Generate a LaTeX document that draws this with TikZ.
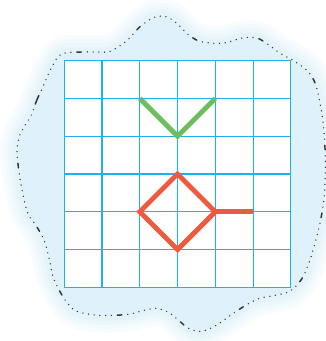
\documentclass[tikz,border=0pt]{standalone}
\usepackage{tikz}
\usetikzlibrary{calc}

\definecolor{gridblue}{HTML}{1EB2EC}
\definecolor{blobblue}{HTML}{DFF1FA}
\definecolor{vgreen}{HTML}{6CBD5E}
\definecolor{dred}{HTML}{EE5A3D}

\begin{document}
\begin{tikzpicture}[x=1cm,y=1cm,
    gridline/.style={draw=gridblue,line width=0.85pt},
    stroke/.style={line width=3.6pt,line join=miter,line cap=butt},
    outline/.style={line width=1.1pt,line cap=round,
      dash pattern=on 3.5pt off 4.5pt on 0pt off 4.3pt on 0pt off 4.3pt on 0pt off 4.3pt
        on 0pt off 4.3pt on 0pt off 4.3pt on 0pt off 4.3pt on 0pt off 4.3pt
        on 0pt off 4.3pt on 0pt off 4.3pt on 0pt off 4.5pt}]
  \useasboundingbox (-1.699,-1.42) rectangle (6.914,7.604);

  % cloud behind the grid (pixel coordinates)
  \begin{scope}[shift={(-1.699,7.604)},x=0.02642cm,y=-0.02642cm]
    \def\cloud{plot[smooth cycle,tension=0.55] coordinates {
      (31,116) (37,100) (43,87) (52,67) (62,54) (87,52) (108,52) (118,47)
      (128,40) (140,27) (153,18) (163,16) (173,20) (181,27) (189,35) (199,41)
      (210,43) (225,43) (243,38) (257,38) (268,44) (280,53) (296,62) (309,72)
      (316,84) (320,100) (324,125) (326,160) (325,195) (321,222) (316,242)
      (310,262) (302,280) (290,292) (275,296) (260,299) (246,306) (231,316)
      (215,327) (201,332) (189,329) (179,321) (169,313) (157,309) (144,311)
      (128,315) (100,316) (77,312) (67,303) (60,292) (53,277) (49,258)
      (44,240) (36,226) (28,214) (23,195) (19,172) (17,150) (20,135) (26,124)}}
    \foreach \w/\o in {26pt/0.18,20pt/0.25,14pt/0.35,8pt/0.5}
      \draw[blobblue,line width=\w,opacity=\o,line join=round] \cloud;
    \fill[blobblue] \cloud;
    \draw[black!80,outline] \cloud;
  \end{scope}

  % squared paper
  \fill[white] (0,0) rectangle (6,6);
  \draw[gridline] (0,0) grid (6,6);

  % the two figures
  \draw[vgreen,stroke] (2,5) -- (3,4) -- (4,5);
  \draw[dred,stroke] (3,3) -- (4,2) -- (3,1) -- (2,2) -- cycle;
  \draw[dred,stroke] (4,2) -- (5,2);
\end{tikzpicture}
\end{document}
